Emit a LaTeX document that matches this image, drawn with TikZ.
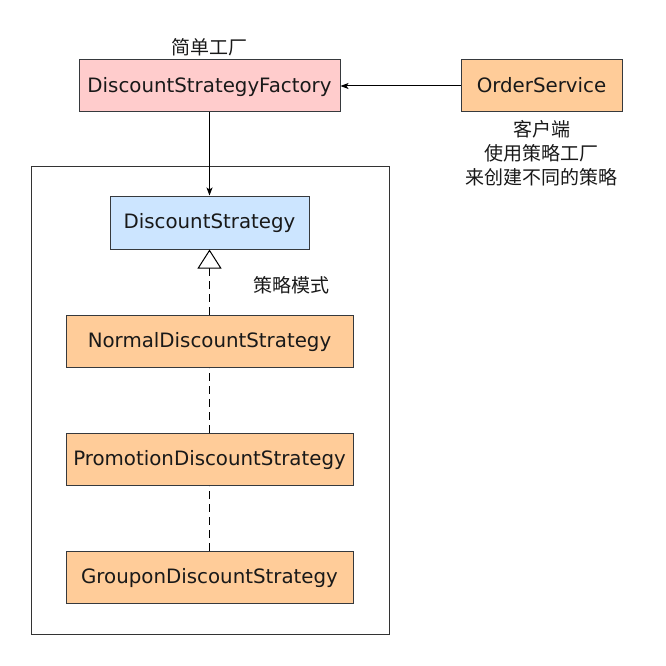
\documentclass[tikz,border=0pt]{standalone}
\usepackage{fontspec}
\setmainfont{DejaVu Sans}
\newfontfamily\cjk{Noto Sans CJK SC}
\usetikzlibrary{arrows.meta}
\definecolor{strokec}{HTML}{36393D}
\definecolor{pinkc}{HTML}{FFCCCC}
\definecolor{orangec}{HTML}{FFCC99}
\definecolor{bluec}{HTML}{CCE5FF}
\begin{document}
\begin{tikzpicture}[x=1pt,y=-1pt,
  box/.style={draw=strokec, line width=1pt, inner sep=0pt, text height=14pt, text depth=1.6pt, font=\fontsize{19.8}{24}\selectfont, text=black!90},
  lbl/.style={inner sep=0pt, font=\cjk\fontsize{19}{24}\selectfont, align=center, text=black!90},
  conn/.style={line width=1pt, black},
  dsh/.style={line width=1pt, black, dash pattern=on 8pt off 5pt}]
\useasboundingbox (0,0) rectangle (666,666);
\node[draw=black!80, line width=1pt, minimum width=358pt, minimum height=468pt, inner sep=0pt] (frame) at (210,400) {};
\node[box, fill=pinkc, minimum width=261pt, minimum height=52pt] (fac) at (209.5,86) {DiscountStrategyFactory};
\node[box, fill=orangec, minimum width=161pt, minimum height=52pt] (os) at (541.5,86) {OrderService};
\node[box, fill=bluec, minimum width=199pt, minimum height=53pt] (ds) at (209.5,222.5) {DiscountStrategy};
\node[box, fill=orangec, minimum width=287pt, minimum height=52pt] (nds) at (209.5,341) {NormalDiscountStrategy};
\node[box, fill=orangec, minimum width=287pt, minimum height=52pt] (pds) at (209.5,459) {PromotionDiscountStrategy};
\node[box, fill=orangec, minimum width=287pt, minimum height=52pt] (gds) at (209.5,577) {GrouponDiscountStrategy};
\node[lbl] (l1) at (209.5,47) {简单工厂};
\node[lbl] (l2) at (541.5,153) {客户端\\使用策略工厂\\来创建不同的策略};
\node[lbl] (l3) at (291,285) {策略模式};
\draw[conn, -{Stealth[length=8pt,width=6pt,inset=2pt]}] (os.west) -- (fac.east);
\draw[conn, -{Stealth[length=8pt,width=6pt,inset=2pt]}] (fac.south) -- (ds.north);
\draw[dsh, -{Triangle[open,length=19pt,width=24pt,fill=white]}] (nds.north) -- (ds.south);
\draw[dsh] (pds.north) -- (nds.south);
\draw[dsh] (gds.north) -- (pds.south);
\end{tikzpicture}
\end{document}
